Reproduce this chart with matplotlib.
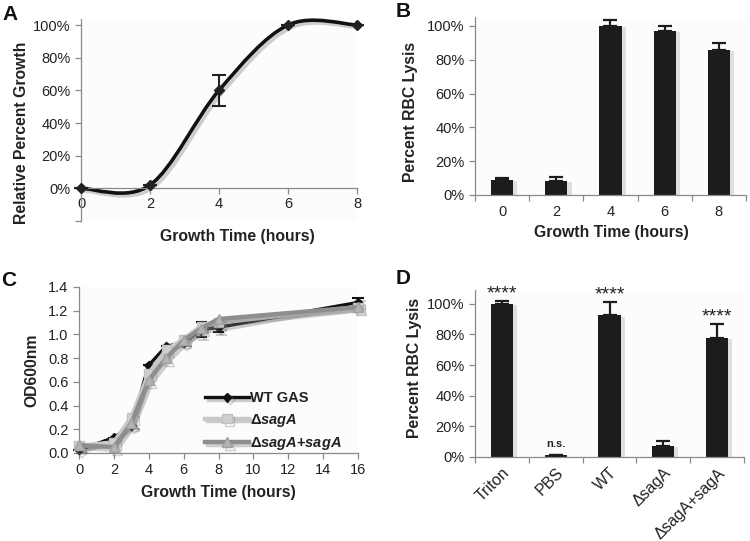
import matplotlib
matplotlib.use("Agg")
import matplotlib.pyplot as plt
import matplotlib.patheffects as pe
from matplotlib.path import Path
from matplotlib.patches import PathPatch
from matplotlib.ticker import FixedLocator

plt.rcParams["font.family"] = ["Liberation Sans", "DejaVu Sans"]
plt.rcParams["mathtext.fontset"] = "custom"
plt.rcParams["mathtext.rm"] = "Liberation Sans"
plt.rcParams["mathtext.it"] = "Liberation Sans:italic"
plt.rcParams["mathtext.bf"] = "Liberation Sans:bold"
plt.rcParams["mathtext.bfit"] = "Liberation Sans:italic:bold"

# panel A: relative growth (%)
a_time = [0, 2, 4, 6, 8]
a_growth = [0, 2, 60, 100, 100]
a_err = [0, 0, 9.5, 0, 0]

# panel B: RBC lysis vs growth time (%)
b_labels = ["0", "2", "4", "6", "8"]
b_lysis = [8.9, 8.3, 100, 97.2, 85.8]
b_err = [1.4, 2.3, 3.5, 2.8, 3.9]

# panel C: OD600 growth curves
c_time = [0, 2, 3, 4, 5, 6, 7, 8, 16]
c_wt = [0.025, 0.13, 0.23, 0.74, 0.90, 0.93, 1.04, 1.06, 1.27]
c_wt_err = [0, 0, 0, 0, 0, 0, 0.065, 0.04, 0.035]
c_dsaga = [0.06, 0.09, 0.30, 0.67, 0.87, 0.96, 1.07, 1.10, 1.23]
c_comp = [0.065, 0.05, 0.25, 0.615, 0.80, 0.95, 1.05, 1.13, 1.23]

# panel D: RBC lysis by strain (%)
d_labels = ["Triton", "PBS", "WT", "ΔsagA", "ΔsagA+sagA"]
d_lysis = [100, 1.0, 92.4, 7.4, 77.8]
d_err = [2.0, 0.0, 9.0, 3.3, 9.2]
d_sig = ["****", "n.s.", "****", "", "****"]

W, H = 750, 541
fig = plt.figure(figsize=(W / 100, H / 100), dpi=100)

AX = "#8a8a8a"
TXT = "#222222"
BAR = "#1c1c1c"
line_fx = [pe.SimpleLineShadow(offset=(2, -2), shadow_color="#777", alpha=0.35), pe.Normal()]
bar_fx = [pe.SimplePatchShadow(offset=(3, -1), shadow_rgbFace="#aaa", alpha=0.35), pe.Normal()]


def px_axes(left, top, right, bottom):
    return fig.add_axes([left / W, 1 - bottom / H, (right - left) / W, (bottom - top) / H])


def style(ax):
    for s in ("top", "right"):
        ax.spines[s].set_visible(False)
    for s in ("left", "bottom"):
        ax.spines[s].set_color(AX)
        ax.spines[s].set_linewidth(0.9)
    ax.tick_params(which="both", direction="out", color=AX, width=0.9, length=4,
                   labelsize=10.5, labelcolor=TXT)
    ax.set_facecolor("#fcfcfc")


def ftext(x, y, s, **kw):
    fig.text(x / W, 1 - y / H, s, **kw)


def smooth_path(xs, ys):
    # Excel-style smoothed line: cubic Bezier through each data point
    pts = list(zip(xs, ys))
    verts = [pts[0]]
    codes = [Path.MOVETO]
    n = len(pts)
    for i in range(n - 1):
        p0 = pts[max(i - 1, 0)]
        p1 = pts[i]
        p2 = pts[i + 1]
        p3 = pts[min(i + 2, n - 1)]
        c1 = (p1[0] + (p2[0] - p0[0]) / 6, p1[1] + (p2[1] - p0[1]) / 6)
        c2 = (p2[0] - (p3[0] - p1[0]) / 6, p2[1] - (p3[1] - p1[1]) / 6)
        verts += [c1, c2, p2]
        codes += [Path.CURVE4] * 3
    return Path(verts, codes)


# ---- A
axA = px_axes(81, 18.5, 357, 221)
style(axA)
axA.set_xlim(0, 8)
axA.set_ylim(-20, 104)
axA.spines["bottom"].set_position(("data", 0))
axA.add_patch(PathPatch(smooth_path(a_time, a_growth), fill=False, lw=2.6,
                        edgecolor="#111", path_effects=line_fx, clip_on=False))
axA.errorbar(a_time, a_growth, yerr=a_err, fmt="D", ms=5, color="#222", ecolor="#222",
             elinewidth=1.5, capsize=5, capthick=1.5, clip_on=False, zorder=3)
axA.set_xticks([0, 2, 4, 6, 8])
axA.set_yticks([-20, 0, 20, 40, 60, 80, 100])
axA.set_yticklabels([""] + [f"{v}%" for v in range(0, 101, 20)])
axA.tick_params(axis="x", pad=2)

# ---- B
axB = px_axes(475, 17.5, 746, 195)
style(axB)
xb = range(len(b_labels))
axB.bar(xb, b_lysis, 0.41, color=BAR, path_effects=bar_fx, zorder=2)
axB.errorbar(xb, b_lysis, yerr=[[0] * len(b_err), b_err], fmt="none", ecolor=BAR,
             elinewidth=1.6, capsize=5, capthick=1.6, zorder=3)
axB.set_xlim(-0.5, len(b_labels) - 0.5)
axB.set_ylim(0, 105)
axB.set_xticks(list(xb))
axB.set_xticklabels(b_labels)
axB.xaxis.set_minor_locator(FixedLocator([i - 0.5 for i in range(len(b_labels) + 1)]))
axB.tick_params(axis="x", which="major", length=0, pad=7)
axB.set_yticks(range(0, 101, 20))
axB.set_yticklabels([f"{v}%" for v in range(0, 101, 20)])

# ---- C
axC = px_axes(79, 287, 358, 453)
style(axC)
axC.set_xlim(0, 16)
axC.set_ylim(0, 1.4)
h_wt = axC.errorbar(c_time, c_wt, yerr=c_wt_err, color="#111", lw=2.4, marker="D", ms=4.5,
                    elinewidth=1.5, capsize=4, capthick=1.5, clip_on=False, zorder=3,
                    path_effects=line_fx)
h_ds, = axC.plot(c_time, c_dsaga, color="#c8c8c8", lw=3.2, marker="s", ms=6.5, mfc="#cfcfcf",
                 mec="#c0c0c0", clip_on=False, zorder=4, path_effects=line_fx)
h_cp, = axC.plot(c_time, c_comp, color="#8e8e8e", lw=3.2, marker="^", ms=7, mfc="#b4b4b4",
                 mec="#a0a0a0", clip_on=False, zorder=5, path_effects=line_fx)
axC.set_xticks(range(0, 17, 2))
axC.set_yticks([0, 0.2, 0.4, 0.6, 0.8, 1.0, 1.2, 1.4])
axC.set_yticklabels([f"{v:.1f}" for v in [0, 0.2, 0.4, 0.6, 0.8, 1.0, 1.2, 1.4]])
leg = axC.legend([h_wt[0], h_ds, h_cp],
                 ["WT GAS", r"Δ$\mathbfit{sagA}$", r"Δ$\mathbfit{sagA}$+$\mathbfit{sagA}$"],
                 loc="lower left", bbox_to_anchor=(0.405, -0.075), frameon=False,
                 handlelength=3.0, handletextpad=0.1, labelspacing=0.45,
                 prop={"weight": "bold", "size": 10.5})
for t in leg.get_texts():
    t.set_color(TXT)

# ---- D
axD = px_axes(475, 290, 744, 457)
style(axD)
xd = range(len(d_labels))
axD.bar(xd, d_lysis, 0.41, color=BAR, path_effects=bar_fx, zorder=2)
axD.errorbar(xd, d_lysis, yerr=[[0] * len(d_err), d_err], fmt="none", ecolor=BAR,
             elinewidth=1.6, capsize=5, capthick=1.6, zorder=3)
axD.set_xlim(-0.5, len(d_labels) - 0.5)
axD.set_ylim(0, 109)
axD.set_xticks(list(xd))
axD.set_xticklabels(d_labels, rotation=45, ha="right", va="top", rotation_mode="anchor",
                    fontsize=11.5)
axD.xaxis.set_minor_locator(FixedLocator([i - 0.5 for i in range(len(d_labels) + 1)]))
axD.tick_params(axis="x", which="major", length=0, pad=6)
axD.set_yticks(range(0, 101, 20))
axD.set_yticklabels([f"{v}%" for v in range(0, 101, 20)])
for i, s in enumerate(d_sig):
    if not s:
        continue
    top = d_lysis[i] + d_err[i]
    if s == "n.s.":
        axD.text(i, top + 4, s, ha="center", va="bottom", fontsize=8, fontweight="bold", color=TXT)
    else:
        axD.text(i, top - 1, s, ha="center", va="bottom", fontsize=14, color=TXT, clip_on=False)

# ---- labels
lab = dict(fontsize=11.3, fontweight="bold", color=TXT, ha="center", va="center")
ftext(22, 133, "Relative Percent Growth", rotation=90, **lab)
ftext(237, 237, "Growth Time (hours)", **lab)
ftext(410, 112, "Percent RBC Lysis", rotation=90, **lab)
ftext(611, 233, "Growth Time (hours)", **lab)
ftext(32, 370, "OD600nm", rotation=90, **lab)
ftext(218, 492, "Growth Time (hours)", **lab)
ftext(415, 368, "Percent RBC Lysis", rotation=90, **lab)

letter = dict(fontsize=15, fontweight="bold", color="#111", ha="center", va="center")
ftext(10, 15, "A", **letter)
ftext(403, 11.5, "B", **letter)
ftext(8.5, 281, "C", **letter)
ftext(403.5, 278.5, "D", **letter)

fig.savefig("out.png", dpi=100)
